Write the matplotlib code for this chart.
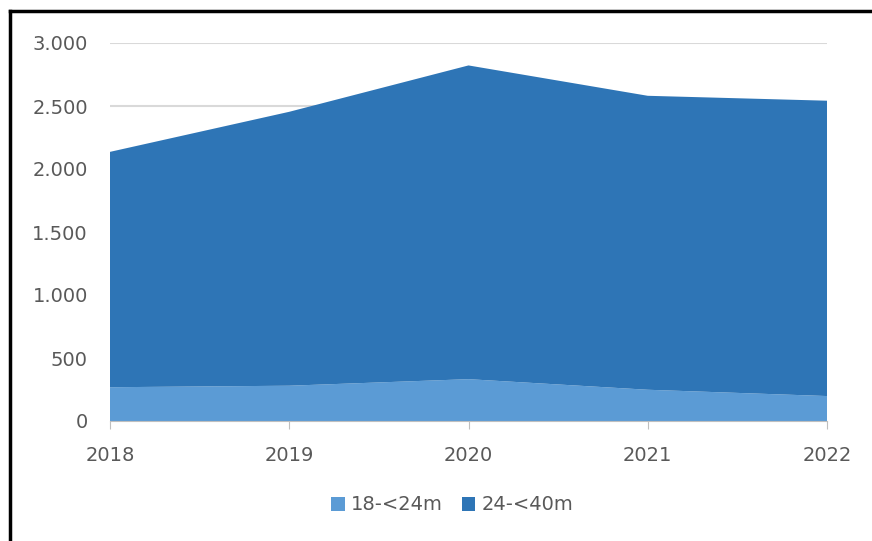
import numpy as np
import matplotlib.pyplot as plt
from matplotlib.lines import Line2D
from matplotlib.patches import Patch
from matplotlib.ticker import FuncFormatter

years = [2018, 2019, 2020, 2021, 2022]
small = [268, 280, 332, 248, 198]            # 18-<24m
large = [1868, 2174, 2490, 2333, 2344]       # 24-<40m
labels = ['18-<24m', '24-<40m']
colors = ['#5B9BD5', '#2E75B6']
text_col = '#595959'

plt.rcParams['font.family'] = ['DejaVu Sans']

fig = plt.figure(figsize=(8.72, 5.41), dpi=100)
ax = fig.add_axes([110 / 872, 1 - 421 / 541, (827 - 110) / 872, (421 - 43) / 541])

ax.stackplot(years, small, large, colors=colors, labels=labels, linewidth=0)

ax.set_xlim(2018, 2022)
ax.set_ylim(0, 3000)
ax.set_yticks(np.arange(0, 3001, 500))
ax.set_xticks(years)
ax.yaxis.set_major_formatter(FuncFormatter(lambda v, p: f'{int(v):,}'.replace(',', '.')))

ax.grid(axis='y', color='#D9D9D9', linewidth=1.5)
ax.set_axisbelow(True)
for s in ['top', 'right', 'left']:
    ax.spines[s].set_visible(False)
ax.spines['bottom'].set_color('#BFBFBF')
ax.spines['bottom'].set_zorder(5)
ax.tick_params(axis='y', length=0, labelsize=14, labelcolor=text_col, pad=16)
ax.tick_params(axis='x', length=6, color='#BFBFBF', labelsize=14, labelcolor=text_col, pad=12)

handles = [Patch(facecolor=c, label=l) for c, l in zip(colors, labels)]
fig.legend(handles=handles, loc='center', bbox_to_anchor=(452 / 872, 1 - 505 / 541),
           ncol=2, frameon=False, fontsize=14, labelcolor=text_col,
           handlelength=0.7, handleheight=0.7, handletextpad=0.3, columnspacing=1.0)

# screenshot frame on left and top
fig.add_artist(Line2D([10 / 872, 10 / 872], [0, 1 - 11 / 541], color='black', lw=2.5,
                      transform=fig.transFigure))
fig.add_artist(Line2D([10 / 872, 1], [1 - 11 / 541, 1 - 11 / 541], color='black', lw=2.5,
                      transform=fig.transFigure))

fig.savefig('out.png', dpi=100)
